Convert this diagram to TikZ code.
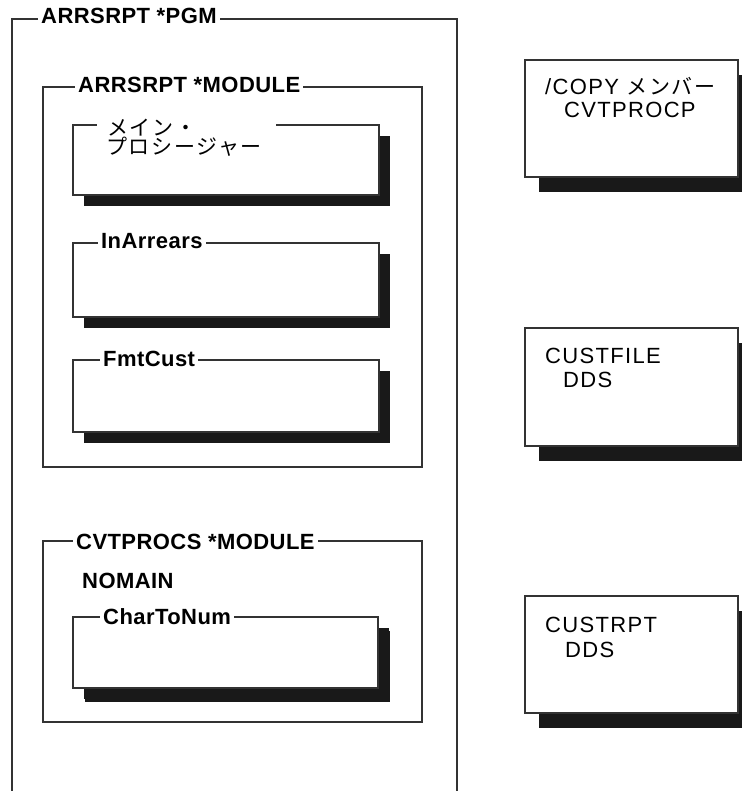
\documentclass[tikz,border=0pt]{standalone}
\usepackage{fontspec}
\setmainfont{Liberation Sans}
\newfontfamily\jpfont{Noto Sans CJK JP}[LetterSpace=8]
\usetikzlibrary{shadows}
\newcommand{\bttl}{\bfseries\fontsize{22}{24}\selectfont\addfontfeature{LetterSpace=2}}
\newcommand{\rtxt}{\fontsize{22}{24}\selectfont\addfontfeature{LetterSpace=6}}
\newcommand{\jtxt}{\jpfont\fontsize{21}{21}\selectfont}
\definecolor{ln}{gray}{0.2}
\definecolor{sh}{gray}{0.1}
\begin{document}
\begin{tikzpicture}[x=1pt,y=-1pt,
  frame/.style={draw=ln, line width=1.7pt},
  modbox/.style={draw=ln, line width=1.7pt, fill=white, rectangle, anchor=north west, inner sep=0pt, outer sep=0pt},
  procbox/.style={modbox, drop shadow={shadow xshift=11pt, shadow yshift=-11pt, fill=sh, opacity=1}},
  membox/.style={modbox, drop shadow={shadow xshift=14pt, shadow yshift=-15pt, fill=sh, opacity=1}},
  ttl/.style={fill=white, inner xsep=3pt, inner ysep=1pt, anchor=base west, font=\bttl},
  txt/.style={inner sep=0pt, anchor=base west, font=\rtxt}]
\useasboundingbox (0,0) rectangle (741,791);
% outer program frame (open at bottom)
\coordinate (pgmbl) at (12,791);
\coordinate (pgmtl) at (12,19);
\coordinate (pgmtr) at (457,19);
\coordinate (pgmbr) at (457,791);
\draw[frame] (pgmbl) -- (pgmtl) -- (pgmtr) -- (pgmbr);
\node (pgmttl) [ttl] at (38,24) {ARRSRPT *PGM};
% ARRSRPT module
\node (mod1) [modbox, minimum width=379pt, minimum height=380pt] at (43,87) {};
\node (mod1ttl) [ttl] at (75,93) {ARRSRPT *MODULE};
\node (mainp) [procbox, minimum width=306pt, minimum height=70pt] at (73,125) {};
\node (mainttl) [fill=white, font=\jtxt, text width=159pt, inner xsep=10pt, inner ysep=1pt, align=left, anchor=base west] at (97,136) {メイン・};
\node (mainttl2) [font=\jtxt, inner sep=0pt, anchor=base west] at (106,155) {プロシージャー};
\node (inarr) [procbox, minimum width=306pt, minimum height=74pt] at (73,243) {};
\node (inarrttl) [ttl] at (98,249) {InArrears};
\node (fmtc) [procbox, minimum width=306pt, minimum height=72pt] at (73,360) {};
\node (fmtcttl) [ttl] at (100,366) {FmtCust};
% CVTPROCS module
\node (mod2) [modbox, minimum width=379pt, minimum height=181pt] at (43,541) {};
\node (mod2ttl) [ttl] at (73,549) {CVTPROCS *MODULE};
\node (nomain) [inner sep=0pt, anchor=base west, font=\bttl] at (82,588) {NOMAIN};
\node (c2n) [procbox, minimum width=305pt, minimum height=71pt, drop shadow={shadow xshift=12pt, shadow yshift=-14pt, fill=sh, opacity=1}] at (73,617) {};
\node (c2nttl) [ttl] at (100,624) {CharToNum};
% right-hand members
\node (copym) [membox, minimum width=213pt, minimum height=117pt] at (525,60) {};
\node (copyt1) [txt] at (545,95) {/COPY {\jtxt メンバー}};
\node (copyt2) [txt] at (564,118) {CVTPROCP};
\node (custf) [membox, minimum width=213pt, minimum height=118pt] at (525,328) {};
\node (custft1) [txt] at (545,363) {CUSTFILE};
\node (custft2) [txt] at (563,387) {DDS};
\node (custr) [membox, minimum width=213pt, minimum height=117pt] at (525,596) {};
\node (custrt1) [txt] at (545,632) {CUSTRPT};
\node (custrt2) [txt] at (565,657) {DDS};
\end{tikzpicture}
\end{document}
